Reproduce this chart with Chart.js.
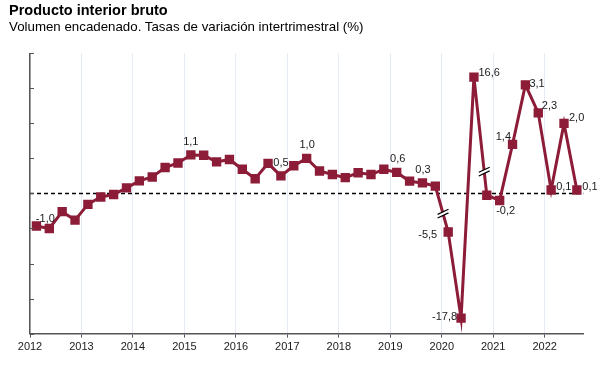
<!DOCTYPE html>
<html>
<head>
<meta charset="utf-8">
<script src="https://cdn.jsdelivr.net/npm/chart.js@4.4.1/dist/chart.umd.min.js"></script>
<style>
  html, body { margin: 0; padding: 0; background: #fff; }
  #wrap { position: relative; width: 612px; height: 368px; overflow: hidden; }
  #title { position: absolute; left: 9px; top: 3.4px; font: bold 14.5px/14.5px 'Liberation Sans', Arial, sans-serif; color: #000; white-space: nowrap; }
  #subtitle { position: absolute; left: 9px; top: 20.4px; font: 13.3px/13.3px 'Liberation Sans', Arial, sans-serif; color: #000; white-space: nowrap; }
  canvas { position: absolute; left: 0; top: 0; }
</style>
</head>
<body>
<div id="wrap">
  <canvas id="c" width="612" height="368"></canvas>
  <div id="title">Producto interior bruto</div>
  <div id="subtitle">Volumen encadenado. Tasas de variación intertrimestral (%)</div>
</div>
<script>
// ---- DATA ----
const yearLabels = ['2012','2013','2014','2015','2016','2017','2018','2019','2020','2021','2022'];
const quarters = [];
for (let y = 2012; y <= 2022; y++) for (let q = 1; q <= 4; q++) if (!(y === 2022 && q === 4)) quarters.push(y + 'T' + q);

// quarter-on-quarter growth (%), 2012T1 .. 2022T3
const values = [
  -0.93, -1.0, -0.52, -0.76,
  -0.31, -0.10, -0.03, 0.16,
   0.36, 0.47, 0.74, 0.87,
   1.1, 1.09, 0.90, 0.97,
   0.69, 0.42, 0.86, 0.5,
   0.79, 1.0, 0.64, 0.54,
   0.45, 0.59, 0.54, 0.69,
   0.6, 0.35, 0.3, 0.21,
  -5.5, -17.8, 16.6, -0.05,
  -0.2, 1.4, 3.1, 2.3,
   0.1, 2.0, 0.1
];
// points drawn on the compressed (broken) part of the axis, and its scale factor
const brokenPoints = [32, 33, 34];
const brokenScale = 0.2;
// quarters whose value is written on the chart
const labelledPoints = [1, 12, 19, 21, 28, 30, 32, 33, 34, 36, 37, 38, 39, 40, 41, 42];
// segments carrying an axis-break mark (index of segment start)
const breakSegments = [31, 34];

// ---- STYLE / PLACEMENT ----
const lineColor = '#8c1c37';
const textColor = '#1a1a1a';
const fontFamily = "'Liberation Sans', Arial, sans-serif";
const labelPlacement = {
  1:  {align: 'right',  dx: 5.5,  dy: -10},
  12: {align: 'center', dx: 0,    dy: -13},
  19: {align: 'center', dx: 0,    dy: -13},
  21: {align: 'center', dx: 0.5,  dy: -13},
  28: {align: 'center', dx: 1,    dy: -13},
  30: {align: 'center', dx: 0.5,  dy: -13},
  32: {align: 'right',  dx: -11,  dy: 3},
  33: {align: 'right',  dx: -4,   dy: -1.5},
  34: {align: 'left',   dx: 4.5,  dy: -4.5},
  36: {align: 'center', dx: 6,    dy: 11},
  37: {align: 'right',  dx: -1.5, dy: -7},
  38: {align: 'left',   dx: 4,    dy: -0.5},
  39: {align: 'left',   dx: 3.5,  dy: -6.5},
  40: {align: 'left',   dx: 5,    dy: -2.5},
  41: {align: 'left',   dx: 5,    dy: -5},
  42: {align: 'left',   dx: 5.5,  dy: -2.5}
};
const breakT = {31: 0.6, 34: 0.8};

const plotted = values.map((v, i) => ({x: i + 0.5, y: brokenPoints.includes(i) ? v * brokenScale : v}));
const fmt = v => v.toFixed(1).replace('.', ',');

const overlay = {
  id: 'overlay',
  beforeDatasetsDraw(chart) {
    const {ctx, chartArea, scales} = chart;
    const y0 = scales.y.getPixelForValue(0);
    ctx.save();
    ctx.strokeStyle = '#000';
    ctx.lineWidth = 1.4;
    ctx.setLineDash([4, 3]);
    ctx.beginPath();
    ctx.moveTo(chartArea.left, y0);
    ctx.lineTo(chartArea.right, y0);
    ctx.stroke();
    ctx.restore();
  },
  afterDatasetsDraw(chart) {
    const {ctx, chartArea, scales} = chart;
    const meta = chart.getDatasetMeta(0);
    ctx.save();
    // inner y ticks
    ctx.strokeStyle = '#555';
    ctx.lineWidth = 1;
    scales.y.ticks.forEach(t => {
      const py = Math.round(scales.y.getPixelForValue(t.value)) + 0.5;
      ctx.beginPath();
      ctx.moveTo(chartArea.left, py);
      ctx.lineTo(chartArea.left + 4, py);
      ctx.stroke();
    });
    // break marks
    breakSegments.forEach(i => {
      const a = meta.data[i], b = meta.data[i + 1];
      const t = breakT[i];
      const cx = a.x + (b.x - a.x) * t, cy = a.y + (b.y - a.y) * t;
      const ang = -25 * Math.PI / 180;
      const dx = Math.cos(ang) * 6, dy = Math.sin(ang) * 6;
      const off = 1.8;
      ctx.fillStyle = '#fff';
      ctx.beginPath();
      ctx.moveTo(cx - dx, cy - dy - off);
      ctx.lineTo(cx + dx, cy + dy - off);
      ctx.lineTo(cx + dx, cy + dy + off);
      ctx.lineTo(cx - dx, cy - dy + off);
      ctx.closePath();
      ctx.fill();
      ctx.strokeStyle = '#000';
      ctx.lineWidth = 1.2;
      [-off, off].forEach(o => {
        ctx.beginPath();
        ctx.moveTo(cx - dx, cy - dy + o);
        ctx.lineTo(cx + dx, cy + dy + o);
        ctx.stroke();
      });
    });
    // data labels
    ctx.fillStyle = textColor;
    ctx.font = '11px ' + fontFamily;
    ctx.textBaseline = 'middle';
    labelledPoints.forEach(i => {
      const p = meta.data[i];
      const pl = labelPlacement[i];
      ctx.textAlign = pl.align;
      ctx.fillText(fmt(values[i]), p.x + pl.dx, p.y + pl.dy);
    });
    ctx.restore();
  }
};

new Chart(document.getElementById('c'), {
  type: 'line',
  data: {
    datasets: [{
      data: plotted,
      borderColor: lineColor,
      backgroundColor: lineColor,
      borderWidth: 3,
      pointStyle: 'rect',
      pointRadius: 4.5,
      pointHoverRadius: 4.5,
      tension: 0
    }]
  },
  options: {
    responsive: false,
    animation: false,
    events: [],
    layout: { padding: { left: 30, right: 28.7, top: 53.3, bottom: 11.2 } },
    plugins: { legend: { display: false }, title: { display: false }, tooltip: { enabled: false } },
    scales: {
      x: {
        type: 'linear',
        min: 0,
        max: quarters.length,
        afterBuildTicks(scale) {
          scale.ticks = yearLabels.map((l, k) => ({value: k * 4}));
        },
        ticks: {
          autoSkip: false,
          maxRotation: 0,
          padding: 3,
          color: textColor,
          font: { family: fontFamily, size: 11 },
          callback: (v) => yearLabels[v / 4]
        },
        grid: {
          display: true,
          drawOnChartArea: true,
          color: '#e6ecf7',
          lineWidth: 1,
          tickLength: 4,
          tickColor: '#555'
        },
        border: { display: true, color: '#555', width: 1.5 }
      },
      y: {
        min: -4,
        max: 4,
        ticks: { display: false, stepSize: 1 },
        grid: { display: false, drawTicks: false },
        border: { display: true, color: '#555', width: 1.5 }
      }
    }
  },
  plugins: [overlay]
});
</script>
</body>
</html>
